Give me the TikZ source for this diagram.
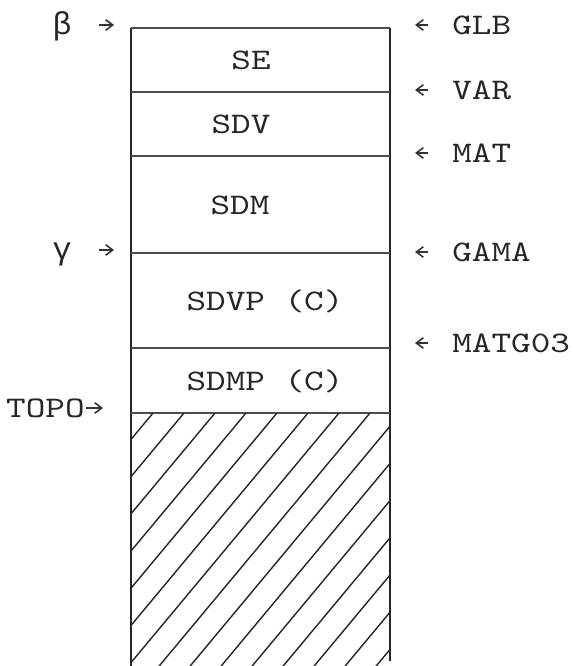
\documentclass[tikz,border=0pt]{standalone}
\usepackage{fontspec}
\newfontfamily\typefont{lmmono10-regular.otf}[FakeStretch=1.25]
\newfontfamily\greekfont{Liberation Mono}
\usetikzlibrary{arrows.meta}

\begin{document}
\begin{tikzpicture}[
    x=0.02cm, y=-0.02cm,
    >={Straight Barb[length=4pt,width=6pt]},
    wall/.style={line width=1pt, draw=black!85},
    sep/.style={line width=1.4pt, draw=black!70},
    hatch/.style={line width=0.8pt, draw=black!85},
    ptr/.style={->, line width=0.9pt, draw=black!80, shorten <=#1},
    ptr/.default=0pt,
    txt/.style={
        font=\typefont\fontsize{17}{20}\selectfont,
        text=black!85,
        inner sep=0pt,
        text height=10.4pt,
        text depth=0pt
    },
    gtxt/.style={txt, font=\greekfont\fontsize{18}{21}\selectfont}
]
    \useasboundingbox (0,0) rectangle (572,666);

    %------------------------------------------------
    % 1. Sloupec a hranice oblasti
    %------------------------------------------------
    \draw[wall] (131,28) -- (131,666);
    \draw[wall] (390,28) -- (390,661);
    \foreach \y in {28,92,156,253,348,413}
        \draw[sep] (131,\y) -- (390,\y);

    %------------------------------------------------
    % 2. Oblasti
    %------------------------------------------------
    \node[txt] (se)   at (251,60)  {SE};
    \node[txt] (sdv)  at (241,124) {SDV};
    \node[txt] (sdm)  at (240,205) {SDM};
    \node[txt] (sdvp) at (265,301) {SDVP (C)};
    \node[txt] (sdmp) at (265,381) {SDMP (C)};

    % volne misto
    \begin{scope}
        \clip (131,413) rectangle (390,666);
        \foreach \i in {0,...,15}
            \draw[hatch] (153+31*\i,413) -- ++(-300,360);
    \end{scope}

    %------------------------------------------------
    % 3. Ukazatele vlevo
    %------------------------------------------------
    \node[gtxt, anchor=east] (beta)  at (72,25)  {β};
    \node[gtxt, anchor=east] (gamma) at (72,250) {γ};
    \node[txt, anchor=east]  (topo)  at (85,408) {TOPO};

    \coordinate (pbeta)  at (114,25);
    \coordinate (pgamma) at (114,250);
    \coordinate (ptopo)  at (103,408);

    \draw[ptr=0.54cm] (beta)  -- (pbeta);
    \draw[ptr=0.54cm] (gamma) -- (pgamma);
    \draw[ptr=0.02cm] (topo)  -- (ptopo);

    %------------------------------------------------
    % 4. Ukazatele vpravo
    %------------------------------------------------
    \node[txt, anchor=west] (glb)  at (452,25)  {GLB};
    \node[txt, anchor=west] (var)  at (452,90)  {VAR};
    \node[txt, anchor=west] (mat)  at (452,153) {MAT};
    \node[txt, anchor=west] (gama) at (452,252) {GAMA};
    \node[txt, anchor=west] (matg) at (452,343) {MATG03};

    \coordinate (pglb)  at (415,25);
    \coordinate (pvar)  at (415,90);
    \coordinate (pmat)  at (415,153);
    \coordinate (pgama) at (415,252);
    \coordinate (pmatg) at (415,343);

    \draw[ptr=0.48cm] (glb)  -- (pglb);
    \draw[ptr=0.48cm] (var)  -- (pvar);
    \draw[ptr=0.48cm] (mat)  -- (pmat);
    \draw[ptr=0.48cm] (gama) -- (pgama);
    \draw[ptr=0.48cm] (matg) -- (pmatg);

\end{tikzpicture}
\end{document}
